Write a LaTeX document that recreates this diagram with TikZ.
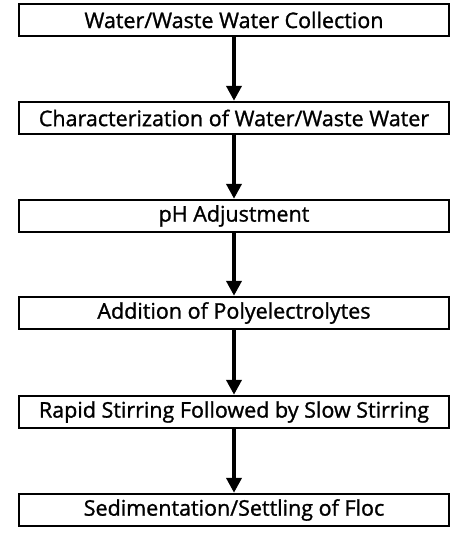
\documentclass[tikz,border=0pt]{standalone}
\usepackage{fontspec}
\setmainfont[FakeBold=1.2]{Open Sans}
\usetikzlibrary{arrows.meta}
\begin{document}
\begin{tikzpicture}[x=1pt,y=-1pt,
  stepbox/.style={draw=black, line width=2.4pt, minimum width=430pt, minimum height=32pt,
    inner sep=0pt, font=\fontsize{21.5}{25}\selectfont, text=black},
  flow/.style={line width=4.5pt, -{Triangle[length=15pt,width=15pt]}}]
\useasboundingbox (0,0) rectangle (474,535);
\node[stepbox] (b1) at (234,20) {Water/Waste Water Collection};
\node[stepbox] (b2) at (234,118) {Characterization of Water/Waste Water};
\node[stepbox] (b3) at (234,216) {pH Adjustment};
\node[stepbox] (b4) at (234,313) {Addition of Polyelectrolytes};
\node[stepbox] (b5) at (234,412) {Rapid Stirring Followed by Slow Stirring};
\node[stepbox] (b6) at (234,510) {Sedimentation/Settling of Floc};
\draw[flow] (b1.south) -- (b2.north);
\draw[flow] (b2.south) -- (b3.north);
\draw[flow] (b3.south) -- (b4.north);
\draw[flow] (b4.south) -- (b5.north);
\draw[flow] (b5.south) -- (b6.north);
\end{tikzpicture}
\end{document}
